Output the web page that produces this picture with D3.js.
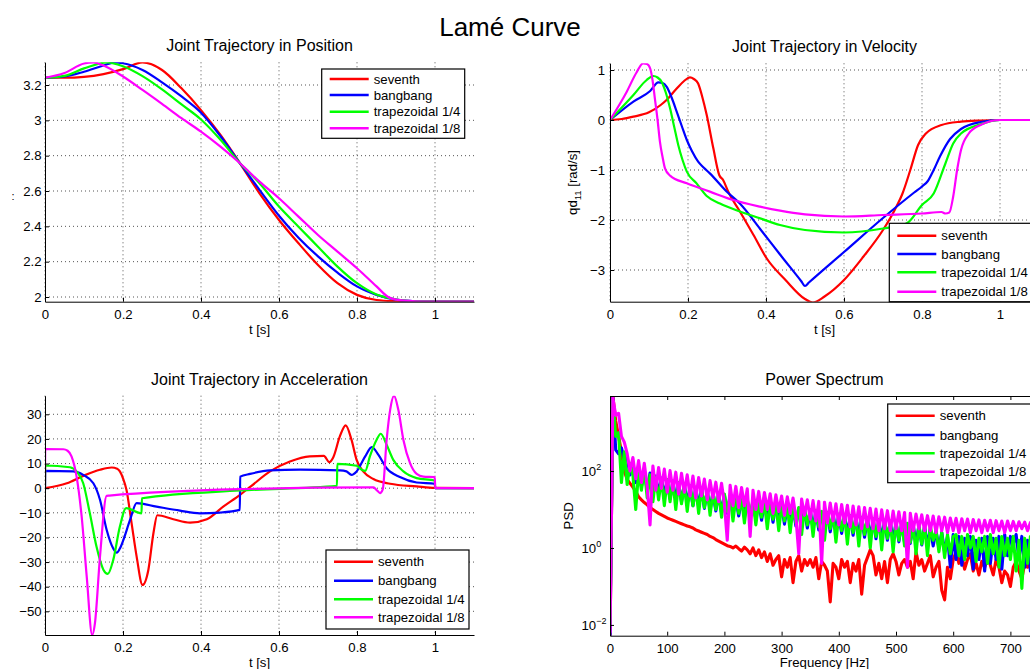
<!DOCTYPE html>
<html>
<head>
<meta charset="utf-8">
<title>Lamé Curve</title>
<style>
  body { margin: 0; background: #fff; }
  svg { font-family: "Liberation Sans", Arial, sans-serif; }
</style>
</head>
<body>
<svg id="chart" width="1030" height="669"></svg>
<script src="https://d3js.org/d3.v7.min.js"></script>
<script>
// series shared by all four panels
const seriesNames = ["seventh", "bangbang", "trapezoidal 1/4", "trapezoidal 1/8"]
const seriesColors = ["#ff0000", "#0000ff", "#00ff00", "#ff00ff"]

// tick values
const timeTicks = [0, 0.2, 0.4, 0.6, 0.8, 1]
const posTicks = [2, 2.2, 2.4, 2.6, 2.8, 3, 3.2]
const velTicks = [-3, -2, -1, 0, 1]
const accTicks = [-50, -40, -30, -20, -10, 0, 10, 20, 30]
const freqTicks = [0, 100, 200, 300, 400, 500, 600, 700]
const psdTicks = [1e-2, 1, 1e2]

// position [t, rad]
const posSeventh = [[0,3.241],[0.05,3.241],[0.1,3.246],[0.15,3.262],[0.2,3.29],[0.25,3.328],[0.3,3.285],[0.35,3.181],[0.4,3.058],[0.45,2.917],[0.5,2.757],[0.55,2.587],[0.6,2.436],[0.65,2.304],[0.7,2.181],[0.75,2.078],[0.8,2.012],[0.85,1.983],[0.9,1.976],[0.95,1.974],[1.0,1.974],[1.1,1.974]]
const posBang = [[0,3.241],[0.05,3.248],[0.1,3.275],[0.15,3.31],[0.18,3.328],[0.2,3.323],[0.25,3.285],[0.3,3.215],[0.35,3.135],[0.4,3.043],[0.45,2.91],[0.5,2.757],[0.55,2.606],[0.6,2.46],[0.65,2.336],[0.7,2.23],[0.75,2.138],[0.8,2.06],[0.85,2.012],[0.9,1.985],[0.95,1.976],[1.0,1.974],[1.1,1.974]]
const posTrap4 = [[0,3.241],[0.05,3.252],[0.1,3.294],[0.16,3.328],[0.2,3.306],[0.25,3.25],[0.3,3.175],[0.35,3.09],[0.4,3.005],[0.45,2.89],[0.5,2.757],[0.55,2.644],[0.6,2.512],[0.65,2.398],[0.7,2.285],[0.75,2.172],[0.8,2.078],[0.85,2.014],[0.9,1.986],[0.95,1.976],[1.0,1.974],[1.1,1.974]]
const posTrap8 = [[0,3.241],[0.05,3.268],[0.1,3.322],[0.124,3.328],[0.15,3.31],[0.2,3.248],[0.25,3.172],[0.3,3.093],[0.35,3.012],[0.4,2.936],[0.45,2.851],[0.5,2.757],[0.55,2.653],[0.6,2.559],[0.65,2.455],[0.7,2.351],[0.75,2.257],[0.8,2.163],[0.85,2.06],[0.88,2.0],[0.9,1.985],[0.95,1.976],[1.0,1.974],[1.1,1.974]]

// velocity [t, rad/s]
const velSeventh = [[0,0],[0.03,0.02],[0.06,0.067],[0.1,0.153],[0.13,0.3],[0.145,0.4],[0.171,0.63],[0.19,0.78],[0.205,0.853],[0.215,0.82],[0.226,0.73],[0.237,0.45],[0.248,0.1],[0.265,-0.567],[0.28,-1.1],[0.29,-1.2],[0.303,-1.43],[0.333,-1.83],[0.368,-2.3],[0.402,-2.77],[0.45,-3.2],[0.5,-3.58],[0.52,-3.65],[0.55,-3.53],[0.6,-3.2],[0.65,-2.73],[0.7,-2.2],[0.73,-1.8],[0.75,-1.47],[0.77,-1.0],[0.79,-0.5],[0.81,-0.27],[0.85,-0.1],[0.9,-0.033],[0.95,-0.01],[1.0,0],[1.1,0]]
const velBang = [[0,0],[0.06,0.367],[0.103,0.58],[0.124,0.753],[0.135,0.74],[0.145,0.667],[0.158,0.45],[0.171,0.167],[0.184,-0.12],[0.197,-0.4],[0.21,-0.62],[0.226,-0.833],[0.24,-0.95],[0.256,-1.067],[0.299,-1.43],[0.333,-1.67],[0.385,-2.18],[0.436,-2.69],[0.49,-3.22],[0.5,-3.32],[0.51,-3.25],[0.6,-2.64],[0.7,-1.96],[0.78,-1.45],[0.8,-1.33],[0.815,-1.22],[0.83,-1.0],[0.846,-0.73],[0.872,-0.38],[0.9,-0.18],[0.95,-0.04],[1.0,0],[1.1,0]]
const velTrap4 = [[0,0],[0.06,0.5],[0.094,0.8],[0.111,0.88],[0.122,0.85],[0.132,0.767],[0.143,0.55],[0.154,0.233],[0.165,-0.15],[0.175,-0.5],[0.186,-0.8],[0.197,-1.033],[0.222,-1.267],[0.248,-1.52],[0.282,-1.67],[0.333,-1.83],[0.385,-1.967],[0.436,-2.1],[0.5,-2.2],[0.6,-2.25],[0.7,-2.17],[0.76,-2.07],[0.8,-1.7],[0.83,-1.47],[0.86,-0.87],[0.88,-0.47],[0.9,-0.27],[0.95,-0.087],[1.0,0],[1.1,0]]
const velTrap8 = [[0,0],[0.043,0.567],[0.068,0.95],[0.085,1.134],[0.095,1.12],[0.103,1.03],[0.109,0.8],[0.115,0.433],[0.122,0.0],[0.128,-0.433],[0.135,-0.75],[0.141,-0.967],[0.154,-1.113],[0.197,-1.267],[0.256,-1.433],[0.316,-1.6],[0.385,-1.733],[0.436,-1.813],[0.5,-1.887],[0.6,-1.93],[0.7,-1.9],[0.8,-1.87],[0.85,-1.84],[0.86,-1.87],[0.87,-1.85],[0.88,-1.53],[0.89,-1.0],[0.9,-0.6],[0.92,-0.27],[0.95,-0.1],[1.0,0],[1.1,0]]

// acceleration [t, rad/s^2]
const accSeventh = [[0,0],[0.056,2.0],[0.098,5.0],[0.141,7.5],[0.171,8.4],[0.185,7.9],[0.192,6.8],[0.2,4.0],[0.209,-0.7],[0.222,-14.2],[0.235,-27.8],[0.25,-39.3],[0.265,-33.2],[0.278,-18.3],[0.288,-11.0],[0.329,-12.6],[0.372,-14.0],[0.415,-12.6],[0.457,-7.5],[0.5,-2.7],[0.526,0.5],[0.577,6.8],[0.628,10.8],[0.679,12.9],[0.715,13.1],[0.729,10.6],[0.739,12.5],[0.756,21],[0.771,25.5],[0.786,19.6],[0.799,11.5],[0.816,6.8],[0.842,3.7],[0.885,1.8],[0.953,0.7],[1.0,0.1],[1.1,0]]
const accBang = [[0,0],[0.0005,7.05],[0.073,6.8],[0.098,5.4],[0.124,2.0],[0.141,-4.7],[0.158,-16.9],[0.175,-24.5],[0.184,-26.2],[0.192,-24.5],[0.201,-21.0],[0.218,-12.9],[0.235,-6.1],[0.286,-7.5],[0.346,-9.1],[0.397,-10.2],[0.449,-9.9],[0.4995,-8.8],[0.5005,4.7],[0.526,5.8],[0.577,7.2],[0.654,7.5],[0.756,7.2],[0.773,6.8],[0.786,5.4],[0.799,6.8],[0.821,12.9],[0.838,16.7],[0.855,13.5],[0.876,8.1],[0.91,4.5],[0.953,2.3],[0.9995,1.8],[1.0005,0],[1.1,0]]
const accTrap4 = [[0,0],[0.0005,9.2],[0.064,8.5],[0.081,6.8],[0.098,2.0],[0.115,-10.2],[0.132,-23.7],[0.15,-33.2],[0.161,-34.8],[0.175,-29.1],[0.192,-15.6],[0.208,-8.1],[0.2475,-10.2],[0.2485,-4.1],[0.5,-0.95],[0.7485,0.9],[0.7495,9.9],[0.799,9.1],[0.812,7.5],[0.821,7.0],[0.833,12.9],[0.85,19.6],[0.861,22.1],[0.876,17.6],[0.893,11.5],[0.919,6.8],[0.953,4.1],[0.9995,3.1],[1.0005,0],[1.1,0]]
const accTrap8 = [[0,0],[0.0005,15.85],[0.047,15.8],[0.058,15.2],[0.068,12.9],[0.081,4.7],[0.094,-11.5],[0.107,-35.9],[0.121,-59.6],[0.128,-54.9],[0.141,-27.8],[0.158,-3.1],[0.165,-3.0],[0.5,-0.4],[0.842,0.3],[0.852,-1.0],[0.859,-2.0],[0.866,-0.5],[0.876,19.6],[0.885,31.8],[0.895,37.5],[0.906,31.8],[0.919,19.6],[0.936,10.2],[0.953,5.8],[0.97,4.7],[0.9995,4.5],[1.0005,0],[1.1,0]]

// power spectrum: frequency bins every 5 Hz, PSD stored as log10 values
const psdFreq = d3.range(0, 751, 5)
const psdSeventhLog = [
  -2.5, 3.95, 3.3, 2.9, 2.5, 2.0, 1.78, 1.68, 1.58, 1.47,
  1.33, 1.25, 1.18, 1.12, 1.05, 1.0, 0.95, 0.9, 0.86, 0.82,
  0.78, 0.75, 0.72, 0.69, 0.66, 0.63, 0.6, 0.57, 0.55, 0.52,
  0.47, 0.44, 0.41, 0.38, 0.35, 0.3, 0.27, 0.22, 0.18, 0.14,
  0.1, 0.06, 0.04, 0.0, 0.05, -0.02, -0.08, 0.02, -0.05, -0.15,
  0.0, -0.2, -0.05, -0.25, -0.1, -0.35, -0.15, -0.45, -0.3, -0.2,
  -0.75, -0.3, -0.5, -0.25, -0.9, -0.35, -0.2, -0.6, -0.3, -0.45,
  -0.3, -0.5, -0.25, -0.8, -0.35, -0.45, -0.6, -1.4, -0.4, -0.5,
  -0.8, -0.3, -0.5, -0.35, -0.9, -0.4, -0.6, -0.3, -1.2, -0.45,
  -0.25, -0.05, -0.2, -0.7, -0.4, -0.8, -0.35, -0.9, -0.3, -0.15,
  -0.35, -0.7, -0.4, -0.3, -0.5, -0.35, -0.8, -0.1, -0.45, -0.3,
  -0.6, -0.4, -0.2, -0.75, -0.5, -0.35, -1.1, -1.35, -0.5, -0.8,
  -0.3, -0.1, -0.4, -0.2, -0.55, -0.3, -0.15, -0.6, -0.4, -0.7,
  -0.35, -0.5, -0.25, -0.45, -0.7, -0.3, -0.5, -0.9, -0.6, -0.7,
  -1.0, -0.5, -0.35, -0.6, -0.8, -0.4, -0.5, -0.35, -0.55, -0.4,
  -0.5]
const psdBangLog = [
  -2.4, 3.9, 2.55, 2.45, 2.6, 2.3, 2.35, 1.9, 2.2, 1.7,
  2.1, 1.6, 2.02, 1.5, 1.95, 1.45, 1.87, 1.4, 1.82, 1.35,
  1.76, 1.28, 1.73, 1.25, 1.68, 1.2, 1.63, 1.15, 1.6, 1.1,
  1.56, 1.07, 1.53, 1.03, 1.48, 1.0, 1.45, 0.96, 1.41, 0.92,
  1.38, 0.9, 1.35, 0.86, 1.31, 0.83, 1.28, 0.8, 1.25, 0.77,
  1.23, 0.74, 1.2, 0.72, 1.18, 0.7, 1.15, 0.67, 1.13, 0.64,
  1.1, 0.62, 1.08, 0.6, 1.05, 0.57, 1.03, 0.55, 1.0, 0.52,
  0.98, 0.5, 0.96, 0.47, 0.94, 0.45, 0.92, 0.42, 0.89, 0.4,
  0.87, 0.38, 0.85, 0.35, 0.83, 0.33, 0.81, 0.3, 0.79, 0.28,
  0.77, 0.26, 0.75, 0.24, 0.73, 0.22, 0.71, 0.2, 0.69, 0.18,
  0.67, 0.16, 0.65, 0.14, 0.63, 0.12, 0.61, 0.1, 0.59, 0.08,
  0.57, 0.06, 0.5, 0.05, 0.45, 0.0, 0.4, -0.1, 0.3, -0.5,
  0.35, -0.3, 0.3, -0.45, 0.25, -0.2, 0.3, -0.55, 0.2, -0.3,
  0.25, -0.6, 0.3, -0.4, 0.25, -0.3, 0.3, -0.55, 0.35, -0.2,
  0.3, 0.1, 0.35, -0.3, 0.3, -0.5, 0.2, -0.6, 0.25, -0.4,
  0.2]
const psdTrap4Log = [
  -2.0, 3.85, 2.9, 3.0, 1.7, 2.5, 1.65, 2.2, 1.9, 1.0,
  2.0, 1.5, 2.05, 1.3, 1.9, 1.2, 1.85, 1.25, 1.8, 1.1,
  1.78, 1.2, 1.75, 1.0, 1.7, 1.15, 1.65, 0.95, 1.62, 1.1,
  1.58, 0.9, 1.55, 1.05, 1.5, 0.85, 1.47, 1.0, 1.43, 0.8,
  1.4, 0.95, 1.37, 0.7, 1.33, 0.9, 1.3, 0.65, 1.27, 0.85,
  1.25, 0.6, 1.22, 0.8, 1.2, 0.5, 1.17, 0.75, 1.15, 0.45,
  1.12, 0.7, 1.1, 0.4, 1.07, 0.65, 1.05, 0.35, 1.02, 0.6,
  1.0, 0.3, 0.98, 0.55, 0.95, 0.2, 0.93, 0.5, 0.9, 0.15,
  0.88, 0.45, 0.86, 0.1, 0.84, 0.4, 0.82, 0.05, 0.8, 0.35,
  0.78, 0.0, 0.76, 0.3, 0.74, -0.05, 0.72, 0.25, 0.7, -0.1,
  0.68, 0.2, 0.66, 0.05, 0.64, 0.15, 0.62, -0.15, 0.6, 0.1,
  0.58, -0.2, 0.56, 0.2, 0.45, -0.1, 0.4, -0.25, 0.35, -0.15,
  0.3, 0.35, -0.2, 0.3, -0.3, 0.35, 0.0, 0.3, -0.35, 0.25,
  -0.1, 0.3, -0.4, 0.35, -0.15, 0.25, -0.5, 0.3, -0.2, 0.25,
  -0.3, 0.3, -0.6, 0.2, -1.05, 0.25, -0.4, 0.3, -0.3, 0.2,
  -0.2]
const psdTrap8Log = [
  -2.2, 3.9, 3.45, 3.5, 2.9, 2.75, 2.45, 2.0, 2.35, 1.8,
  2.27, 1.7, 2.2, 1.6, 0.6, 2.13, 1.5, 2.09, 1.55, 2.05,
  1.45, 2.01, 1.5, 1.97, 1.4, 1.94, 1.45, 1.9, 1.35, 1.87,
  1.3, 1.83, 1.35, 1.79, 1.25, 1.75, 1.3, 1.71, 1.2, 1.68,
  1.15, 0.2, 1.63, 1.1, 1.6, 1.05, 1.57, 1.1, 1.54, 0.3,
  1.5, 1.0, 1.47, 0.95, 1.44, 1.0, 1.41, 0.9, 1.38, 0.95,
  1.35, 0.85, 1.33, 0.9, 1.3, 0.8, -0.15, 1.27, 0.85, 1.25,
  0.75, 1.23, 0.7, 1.21, -0.4, 1.19, 0.65, 1.17, 0.7, 1.15,
  0.6, 1.13, 0.65, 1.11, 0.55, 1.09, 0.6, 1.07, 0.5, 1.05,
  0.55, 1.03, 0.5, 1.01, 0.45, 0.99, 0.5, 0.97, 0.45, 0.96,
  0.5, 0.94, 0.45, 0.92, -0.5, 0.9, 0.45, 0.88, 0.5, 0.86,
  0.45, 0.84, 0.45, 0.83, 0.4, 0.81, 0.45, 0.8, 0.4, 0.78,
  0.45, 0.77, 0.4, 0.76, 0.45, 0.75, 0.4, 0.74, 0.45, 0.73,
  0.4, 0.72, 0.45, 0.72, 0.4, 0.71, 0.45, 0.7, 0.4, 0.7,
  0.45, 0.69, 0.45, 0.68, 0.5, 0.67, 0.45, 0.66, 0.5, 0.65,
  0.5]

const svg = d3.select("#chart")
const fmt = d3.format("~g")
const fontSize = 13.2

svg.append("text")
  .attr("x", 510).attr("y", 36)
  .attr("text-anchor", "middle")
  .attr("font-size", 26)
  .text("Lamé Curve")

function addLegend(x0, y0, h, rows) {
  let lg = svg.append("g").attr("transform", `translate(${x0},${y0})`)
  lg.append("rect")
    .attr("width", 143).attr("height", h)
    .attr("fill", "white").attr("stroke", "black").attr("stroke-width", 1.2)
  seriesNames.forEach((name, i) => {
    lg.append("line")
      .attr("x1", 8).attr("x2", 47).attr("y1", rows[i]).attr("y2", rows[i])
      .attr("stroke", seriesColors[i]).attr("stroke-width", 2.4)
    lg.append("text")
      .attr("x", 52).attr("y", rows[i]).attr("dy", "0.35em")
      .attr("font-size", fontSize)
      .text(name)
  })
}

function styleAxis(g) {
  g.attr("font-size", fontSize).attr("font-family", null)
  g.selectAll("path, line").attr("stroke", "black")
}

// time-domain panels: dotted grid, left and bottom axes only
function timePanel(o) {
  let x = d3.scaleLinear().domain([0, 1.1]).range([o.left, o.right])
  let y = d3.scaleLinear().domain(o.yDomain).range([o.bottom, o.top])

  let grid = svg.append("g")
    .attr("stroke", "#555").attr("stroke-width", 1).attr("stroke-dasharray", "1,3")
  grid.selectAll(".vx").data(timeTicks).join("line")
    .attr("x1", d => x(d)).attr("x2", d => x(d))
    .attr("y1", o.top).attr("y2", o.bottom)
  grid.selectAll(".hy").data(o.yTicks).join("line")
    .attr("x1", o.left).attr("x2", o.right)
    .attr("y1", d => y(d)).attr("y2", d => y(d))

  svg.append("clipPath").attr("id", o.id)
    .append("rect")
    .attr("x", o.left).attr("y", o.top)
    .attr("width", o.right - o.left).attr("height", o.bottom - o.top)

  let line = d3.line()
    .x(d => x(d[0])).y(d => y(d[1]))
    .curve(d3.curveMonotoneX)

  svg.append("g").attr("clip-path", `url(#${o.id})`)
    .selectAll("path").data(o.series).join("path")
    .attr("d", line)
    .attr("fill", "none")
    .attr("stroke", (d, i) => seriesColors[i])
    .attr("stroke-width", 2.2)
    .attr("stroke-linejoin", "round")

  svg.append("g").attr("transform", `translate(0,${o.bottom})`)
    .call(d3.axisBottom(x).tickValues(timeTicks).tickFormat(fmt)
      .tickSize(-4).tickSizeOuter(0).tickPadding(7.8))
    .call(styleAxis)
  svg.append("g").attr("transform", `translate(${o.left},0)`)
    .call(d3.axisLeft(y).tickValues(o.yTicks).tickFormat(fmt)
      .tickSize(-4).tickSizeOuter(0).tickPadding(o.pad))
    .call(styleAxis)

  let cx = (o.left + o.right) / 2
  svg.append("text")
    .attr("x", cx).attr("y", o.top - 11)
    .attr("text-anchor", "middle").attr("font-size", 16)
    .text(o.title)
  svg.append("text")
    .attr("x", cx).attr("y", o.bottom + 32)
    .attr("text-anchor", "middle").attr("font-size", fontSize)
    .text("t [s]")
}

timePanel({
  id: "clipPos", left: 45, right: 474, top: 62.3, bottom: 301.7,
  yDomain: [1.9734, 3.3285], yTicks: posTicks, pad: 3.4,
  series: [posSeventh, posBang, posTrap4, posTrap8],
  title: "Joint Trajectory in Position"
})
svg.append("text").attr("x", 13).attr("y", 200)
  .attr("text-anchor", "middle").attr("font-size", 11).text(":")
addLegend(321.7, 69, 69.3, [10, 26, 42.7, 59.3])

timePanel({
  id: "clipVel", left: 610, right: 1039, top: 63.3, bottom: 301.7,
  yDomain: [-3.634, 1.134], yTicks: velTicks, pad: 5,
  series: [velSeventh, velBang, velTrap4, velTrap8],
  title: "Joint Trajectory in Velocity"
})
svg.append("text")
  .attr("transform", "translate(577,182.5) rotate(-90)")
  .attr("text-anchor", "middle").attr("font-size", fontSize)
  .call(t => {
    t.append("tspan").text("qd")
    t.append("tspan").attr("font-size", 9.5).attr("dy", 4).text("11")
    t.append("tspan").attr("dy", -4).text(" [rad/s]")
  })
addLegend(889.3, 223.3, 78.4, [12.4, 30.7, 49, 68.4])

timePanel({
  id: "clipAcc", left: 45, right: 474, top: 395.7, bottom: 635,
  yDomain: [-59.62, 37.55], yTicks: accTicks, pad: 3.4,
  series: [accSeventh, accBang, accTrap4, accTrap8],
  title: "Joint Trajectory in Acceleration"
})
addLegend(326, 550, 79, [11.7, 30.7, 49.3, 67.3])

// power spectrum panel: boxed, log y, no grid
{
  let left = 610, right = 1039, top = 396, bottom = 635.7
  let x = d3.scaleLinear().domain([0, 750]).range([left, right])
  let y = d3.scaleLog().domain([Math.pow(10, -2.28), Math.pow(10, 3.95)]).range([bottom, top])

  svg.append("clipPath").attr("id", "clipPsd")
    .append("rect")
    .attr("x", left).attr("y", top)
    .attr("width", right - left).attr("height", bottom - top)

  let psdSeries = [psdSeventhLog, psdBangLog, psdTrap4Log, psdTrap8Log]
  let line = d3.line()
    .x((d, i) => x(psdFreq[i]))
    .y(d => y(Math.pow(10, d)))

  // dense spectra: a thicker stroke lets the zig-zag read as a filled band
  svg.append("g").attr("clip-path", "url(#clipPsd)")
    .selectAll("path").data(psdSeries).join("path")
    .attr("d", line)
    .attr("fill", "none")
    .attr("stroke", (d, i) => seriesColors[i])
    .attr("stroke-width", 3.1)
    .attr("stroke-linejoin", "round")

  svg.append("g").attr("transform", `translate(0,${bottom})`)
    .call(d3.axisBottom(x).tickValues(freqTicks).tickFormat(fmt)
      .tickSize(-4).tickSizeOuter(0).tickPadding(7.8))
    .call(styleAxis)
  svg.append("g").attr("transform", `translate(0,${top})`)
    .call(d3.axisTop(x).tickValues(freqTicks).tickFormat("")
      .tickSize(-4).tickSizeOuter(0))
    .call(styleAxis)
  svg.append("g").attr("transform", `translate(${left},0)`)
    .call(d3.axisLeft(y).tickValues(psdTicks).tickFormat("")
      .tickSize(-4).tickSizeOuter(0))
    .call(styleAxis)

  svg.append("g").selectAll("text").data(psdTicks).join("text")
    .attr("x", 581.5).attr("y", d => y(d) + 5)
    .attr("font-size", fontSize)
    .call(t => {
      t.append("tspan").text("10")
      t.append("tspan").attr("font-size", 9).attr("dy", -6)
        .text(d => fmt(Math.round(Math.log10(d))))
    })

  svg.append("text")
    .attr("x", (left + right) / 2).attr("y", top - 11)
    .attr("text-anchor", "middle").attr("font-size", 16)
    .text("Power Spectrum")
  svg.append("text")
    .attr("x", (left + right) / 2).attr("y", bottom + 31)
    .attr("text-anchor", "middle").attr("font-size", fontSize)
    .text("Frequency [Hz]")
  svg.append("text")
    .attr("transform", `translate(573,${(top + bottom) / 2}) rotate(-90)`)
    .attr("text-anchor", "middle").attr("font-size", fontSize)
    .text("PSD")

  addLegend(887.7, 404, 78.7, [11.7, 31, 49.3, 67.7])
}
</script>
</body>
</html>
